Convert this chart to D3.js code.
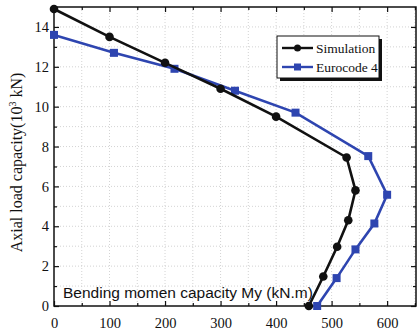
<!DOCTYPE html>
<html>
<head>
<meta charset="utf-8">
<script src="https://cdn.jsdelivr.net/npm/d3@7"></script>
<style>
  body { margin: 0; background: #fff; }
  svg { display: block; }
</style>
</head>
<body>
<div id="chart"></div>
<script>
// bending moment (kN.m) vs axial load (10^3 kN)
const simMoment = [0, 100, 200, 300, 400, 527, 543, 530, 510, 485, 459];
const simAxial = [14.9, 13.5, 12.2, 10.9, 9.5, 7.45, 5.8, 4.3, 2.97, 1.48, 0];
const ecMoment = [0, 108, 217, 326, 435, 566, 600, 577, 543, 509, 474];
const ecAxial = [13.6, 12.7, 11.9, 10.8, 9.7, 7.52, 5.58, 4.14, 2.84, 1.4, 0];
const xTicks = [0, 100, 200, 300, 400, 500, 600];
const yTicks = [0, 2, 4, 6, 8, 10, 12, 14];
const seriesNames = ["Simulation", "Eurocode 4"];

const W = 418, H = 332;
const margin = { top: 7, right: 2, bottom: 26, left: 54 },
    width = W - margin.left - margin.right,
    height = H - margin.top - margin.bottom;

const svg = d3.select("#chart").append("svg")
    .attr("width", W).attr("height", H);
const g = svg.append("g")
    .attr("transform", `translate(${margin.left},${margin.top})`);

const x = d3.scaleLinear().domain([0, 652]).range([0, width]);
const y = d3.scaleLinear().domain([0, 15]).range([height, 0]);

// grid, dotted, at major and minor steps
const xGrid = d3.range(50, 651, 50);
const yGrid = d3.range(1, 15, 1);
g.append("g").selectAll("line").data(xGrid).join("line")
    .attr("x1", d => x(d)).attr("x2", d => x(d))
    .attr("y1", 0).attr("y2", height)
    .attr("stroke", "#c8c8c8").attr("stroke-width", 0.8)
    .attr("stroke-dasharray", "1,2");
g.append("g").selectAll("line").data(yGrid).join("line")
    .attr("y1", d => y(d)).attr("y2", d => y(d))
    .attr("x1", 0).attr("x2", width)
    .attr("stroke", "#c8c8c8").attr("stroke-width", 0.8)
    .attr("stroke-dasharray", "1,2");

// axes with inward ticks
const tickFont = "'Liberation Serif', 'Times New Roman', serif";
function styleAxis(sel) {
    sel.select(".domain").remove();
    sel.selectAll("line").attr("stroke", "#111").attr("stroke-width", 1.2);
    sel.selectAll("text").attr("font-family", tickFont).attr("font-size", 14.5).attr("fill", "#111");
}
const xb = g.append("g").attr("transform", `translate(0,${height})`)
    .call(d3.axisBottom(x).tickValues(xTicks).tickSize(-5).tickPadding(12));
styleAxis(xb);
g.append("g").attr("transform", `translate(0,${height})`)
    .call(d3.axisBottom(x).tickValues(xGrid.filter(d => d % 100)).tickSize(-3).tickFormat(""))
    .call(styleAxis);
const yl = g.append("g")
    .call(d3.axisLeft(y).tickValues(yTicks).tickSize(-5).tickPadding(5));
styleAxis(yl);
g.append("g").call(d3.axisLeft(y).tickValues(yGrid.filter(d => d % 2)).tickSize(-3).tickFormat(""))
    .call(styleAxis);
g.append("g").call(d3.axisTop(x).tickValues(xTicks).tickSize(-5).tickFormat("")).call(styleAxis);
g.append("g").call(d3.axisTop(x).tickValues(xGrid.filter(d => d % 100)).tickSize(-3).tickFormat("")).call(styleAxis);
g.append("g").attr("transform", `translate(${width},0)`)
    .call(d3.axisRight(y).tickValues(yTicks).tickSize(-5).tickFormat("")).call(styleAxis);
g.append("g").attr("transform", `translate(${width},0)`)
    .call(d3.axisRight(y).tickValues(yGrid.filter(d => d % 2)).tickSize(-3).tickFormat("")).call(styleAxis);

g.append("rect").attr("width", width).attr("height", height)
    .attr("fill", "none").attr("stroke", "#111").attr("stroke-width", 1.5);

// series
const sim = simMoment.map((m, i) => ({ m: m, n: simAxial[i] }));
const ec = ecMoment.map((m, i) => ({ m: m, n: ecAxial[i] }));
const line = d3.line().x(d => x(d.m)).y(d => y(d.n));
const blue = "#2e45b0";

g.append("path").datum(ec).attr("d", line)
    .attr("fill", "none").attr("stroke", blue).attr("stroke-width", 2.6);
g.append("g").selectAll("rect").data(ec).join("rect")
    .attr("x", d => x(d.m) - 4).attr("y", d => y(d.n) - 4)
    .attr("width", 8).attr("height", 8).attr("fill", blue);

g.append("path").datum(sim).attr("d", line)
    .attr("fill", "none").attr("stroke", "#111").attr("stroke-width", 2.6);
g.append("g").selectAll("circle").data(sim).join("circle")
    .attr("cx", d => x(d.m)).attr("cy", d => y(d.n)).attr("r", 4.3)
    .attr("fill", "#111");

// legend
const lg = svg.append("g").attr("transform", "translate(277,36)");
lg.append("rect").attr("x", 3).attr("y", 3).attr("width", 102).attr("height", 42).attr("fill", "#111");
lg.append("rect").attr("width", 102).attr("height", 42).attr("fill", "#fff").attr("stroke", "#111").attr("stroke-width", 1);
seriesNames.forEach((name, i) => {
    const yy = 12 + i * 19;
    const col = i === 0 ? "#111" : blue;
    lg.append("line").attr("x1", 5).attr("x2", 36).attr("y1", yy).attr("y2", yy)
        .attr("stroke", col).attr("stroke-width", 2.4);
    if (i === 0) lg.append("circle").attr("cx", 20.5).attr("cy", yy).attr("r", 3.5).attr("fill", col);
    else lg.append("rect").attr("x", 17).attr("y", yy - 3.5).attr("width", 7).attr("height", 7).attr("fill", col);
    lg.append("text").attr("x", 39).attr("y", yy + 5).text(name)
        .attr("font-family", tickFont).attr("font-size", 13.5).attr("fill", "#111");
});

// axis titles
svg.append("text")
    .attr("transform", `translate(22,${margin.top + height / 2 + 6}) rotate(-90)`)
    .attr("text-anchor", "middle")
    .attr("font-family", tickFont).attr("font-size", 16).attr("fill", "#111")
    .html("Axial load capacity(10<tspan dy='-6' font-size='10'>3</tspan><tspan dy='6'> kN)</tspan>");
svg.append("text")
    .attr("x", 63).attr("y", 298)
    .attr("font-family", "'Liberation Sans', Arial, sans-serif").attr("font-size", 15.5).attr("fill", "#111")
    .text("Bending momen capacity My (kN.m)");
</script>
</body>
</html>
